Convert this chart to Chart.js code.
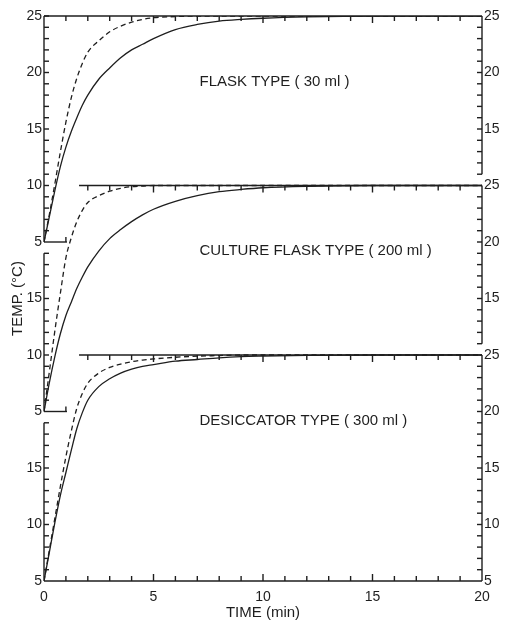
<!DOCTYPE html>
<html>
<head>
<meta charset="utf-8">
<script src="https://cdn.jsdelivr.net/npm/chart.js@4.4.0/dist/chart.umd.min.js"></script>
<style>
  html, body { margin: 0; padding: 0; background: #fff; }
  #wrap { position: relative; width: 505px; height: 620px; }
</style>
</head>
<body>
<div id="wrap"><canvas id="chart" width="505" height="620"></canvas></div>
<script>
// ── data ──
const TIME = [0, 0.25, 0.5, 0.75, 1, 1.25, 1.5, 1.75, 2, 2.5, 3, 3.5, 4, 4.5, 5, 6, 7, 8, 9, 10, 12, 15, 20];

const FLASK_SOLID    = [5, 7.3, 9.6, 11.7, 13.4, 14.8, 16.0, 17.1, 18.0, 19.4, 20.4, 21.3, 22.0, 22.5, 23.0, 23.8, 24.25, 24.55, 24.7, 24.8, 24.92, 25, 25];
const FLASK_DASHED   = [5, 7.5, 10.2, 13.0, 15.6, 17.8, 19.5, 20.8, 21.8, 22.8, 23.6, 24.1, 24.45, 24.7, 24.85, 24.95, 25, 25, 25, 25, 25, 25, 25];
const CULTURE_SOLID  = [5, 7.6, 9.9, 11.9, 13.5, 14.7, 15.9, 16.9, 17.8, 19.2, 20.3, 21.1, 21.8, 22.4, 22.9, 23.6, 24.1, 24.45, 24.65, 24.8, 24.93, 25, 25];
const CULTURE_DASHED = [5, 8.6, 12.2, 15.5, 18.6, 20.4, 21.8, 22.8, 23.5, 24.1, 24.5, 24.75, 24.9, 24.95, 25, 25, 25, 25, 25, 25, 25, 25, 25];
const DESICC_SOLID   = [5, 7.6, 10.2, 12.6, 14.6, 16.6, 18.5, 19.9, 21.0, 22.2, 22.9, 23.4, 23.75, 24.0, 24.15, 24.45, 24.6, 24.75, 24.85, 24.9, 24.97, 25, 25];
const DESICC_DASHED  = [5, 7.8, 10.6, 13.4, 16.0, 18.3, 20.3, 21.6, 22.5, 23.4, 23.9, 24.2, 24.4, 24.55, 24.65, 24.8, 24.9, 24.95, 25, 25, 25, 25, 25];

const PANEL_TITLES = ['FLASK TYPE ( 30 ml )', 'CULTURE FLASK TYPE ( 200 ml )', 'DESICCATOR TYPE ( 300 ml )'];
// the three 5–25 °C panels share one y scale, shifted by 15 °C each
const PANEL_OFFSETS = [30, 15, 0];

const X_LABELS       = ['0', '5', '10', '15', '20'];
const Y_LEFT_LABELS  = ['5', '10', '15', '5', '10', '15', '5', '10', '15', '20', '25'];
const Y_RIGHT_LABELS = ['5', '10', '15', '20', '25', '15', '20', '25', '15', '20', '25'];

const INK  = '#1e1e1e';
const FONT = 'Liberation Sans';
Chart.defaults.font.family = FONT;
Chart.defaults.color = INK;

function series(vals, off, dashed) {
  return {
    data: TIME.map((t, i) => ({ x: t, y: vals[i] + off })),
    borderColor: INK,
    borderWidth: 1.3,
    borderDash: dashed ? [5, 3.5] : [],
    pointRadius: 0,
    cubicInterpolationMode: 'monotone',
    fill: false,
  };
}

// ── broken frame: each panel keeps only its own axis pieces ──
const framePlugin = {
  id: 'frame',
  beforeDatasetsDraw(chart) {
    const { ctx, scales: { x, y } } = chart;
    const X = v => x.getPixelForValue(v), Y = v => y.getPixelForValue(v);
    const seg = (x1, y1, x2, y2) => { ctx.beginPath(); ctx.moveTo(x1, y1); ctx.lineTo(x2, y2); ctx.stroke(); };
    ctx.save();
    ctx.strokeStyle = INK;
    ctx.lineWidth = 1.4;

    // left axis pieces
    [[5, 19], [20, 34], [35, 55]].forEach(([a, b]) => {
      seg(X(0), Y(a), X(0), Y(b));
      for (let v = a + 1; v <= b; v++) seg(X(0), Y(v), X(0) + 5, Y(v));
    });
    // right axis pieces
    [[5, 25], [26, 40], [41, 55]].forEach(([a, b]) => {
      seg(X(20), Y(a), X(20), Y(b));
      for (let v = a + 1; v < b; v++) seg(X(20), Y(v), X(20) - 5, Y(v));
      if (a > 5) seg(X(20), Y(a), X(20) - 5, Y(a));
    });
    // bottom axis, ticks up
    seg(X(0), Y(5), X(20), Y(5));
    for (let t = 1; t < 20; t++) seg(X(t), Y(5), X(t), Y(5) - (t % 5 ? 5 : 7));
    // panel tops, ticks down
    [[0, 55], [1.6, 40], [1.6, 25]].forEach(([t0, v]) => {
      seg(X(t0), Y(v), X(20), Y(v));
      for (let t = Math.ceil(t0 + 0.01); t < 20; t++) seg(X(t), Y(v), X(t), Y(v) + (t % 5 ? 5 : 7));
    });
    // 5 °C stubs of the upper panels
    [20, 35].forEach(v => {
      seg(X(0), Y(v), X(1.05), Y(v));
      seg(X(1), Y(v), X(1), Y(v) - 5);
    });
    ctx.restore();
  },
  afterDraw(chart) {
    const { ctx, scales: { x, y } } = chart;
    ctx.save();
    ctx.fillStyle = INK;
    ctx.font = '15px "' + FONT + '"';
    ctx.textAlign = 'left';
    ctx.textBaseline = 'middle';
    PANEL_TITLES.forEach((txt, i) => {
      ctx.fillText(txt, x.getPixelForValue(7.1), y.getPixelForValue(19.2 + PANEL_OFFSETS[i]));
    });
    ctx.restore();
  }
};

const datasets = [
  series(FLASK_SOLID, PANEL_OFFSETS[0], false),
  series(FLASK_DASHED, PANEL_OFFSETS[0], true),
  series(CULTURE_SOLID, PANEL_OFFSETS[1], false),
  series(CULTURE_DASHED, PANEL_OFFSETS[1], true),
  series(DESICC_SOLID, PANEL_OFFSETS[2], false),
  series(DESICC_DASHED, PANEL_OFFSETS[2], true),
];

const tickFont = { size: 14 };
const titleFont = { size: 15 };

new Chart(document.getElementById('chart'), {
  type: 'line',
  data: { datasets },
  plugins: [framePlugin],
  options: {
    responsive: false,
    animation: false,
    layout: { padding: { top: 16, left: 0, right: 0, bottom: 0 } },
    plugins: { legend: { display: false }, tooltip: { enabled: false } },
    scales: {
      x: {
        type: 'linear', position: 'bottom', min: 0, max: 20,
        grid: { display: false, drawTicks: false },
        border: { display: false },
        ticks: { stepSize: 5, padding: 8, font: tickFont, autoSkip: false, maxRotation: 0,
                 callback: (v, i) => X_LABELS[i] },
        title: { display: true, text: 'TIME (min)', font: titleFont, padding: { top: 0, bottom: -2 } },
        afterFit: s => { s.height = 39; },
      },
      y: {
        type: 'linear', position: 'left', min: 5, max: 55,
        grid: { display: false, drawTicks: false },
        border: { display: false },
        ticks: { stepSize: 5, padding: 2, font: tickFont, autoSkip: false,
                 callback: (v, i) => Y_LEFT_LABELS[i] },
        title: { display: true, text: 'TEMP. (°C)', font: titleFont, padding: { top: 9, bottom: 0 } },
        afterFit: s => { s.width = 44; },
      },
      y2: {
        type: 'linear', position: 'right', min: 5, max: 55,
        grid: { display: false, drawTicks: false },
        border: { display: false },
        ticks: { stepSize: 5, padding: 2, font: tickFont, autoSkip: false,
                 callback: (v, i) => Y_RIGHT_LABELS[i] },
        afterFit: s => { s.width = 23; },
      },
    },
  },
});
</script>
</body>
</html>
